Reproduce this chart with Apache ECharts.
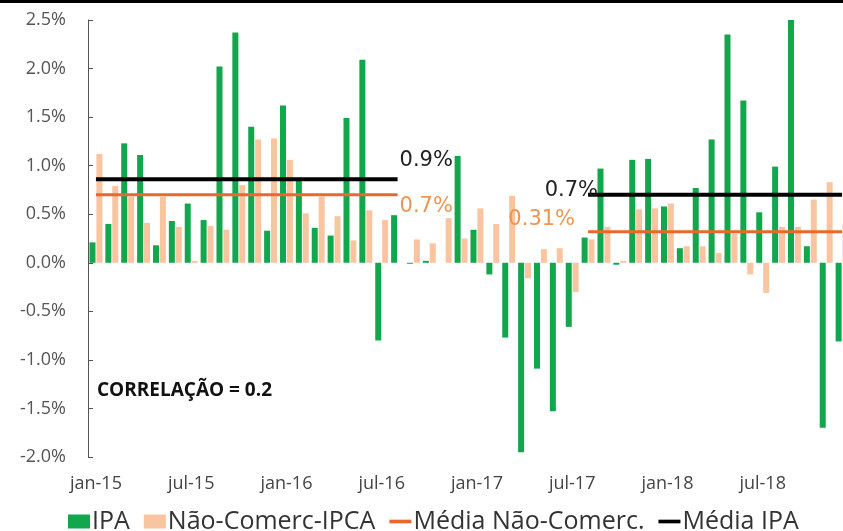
<!DOCTYPE html>
<html>
<head>
<meta charset="utf-8">
<script src="https://cdn.jsdelivr.net/npm/echarts@6/dist/echarts.min.js"></script>
<style>
  html, body { margin: 0; padding: 0; background: #fff; overflow: hidden; }
  /* the reference cuts the plot at its right edge, so the chart is wider than the window */
  #chart { width: 860px; height: 531px; }
</style>
</head>
<body>
<div id="chart"></div>
<script>
// meses jan-15 .. dez-18
var months = [
  "jan-15", "fev-15", "mar-15", "abr-15", "mai-15", "jun-15", "jul-15", "ago-15", "set-15", "out-15", "nov-15", "dez-15",
  "jan-16", "fev-16", "mar-16", "abr-16", "mai-16", "jun-16", "jul-16", "ago-16", "set-16", "out-16", "nov-16", "dez-16",
  "jan-17", "fev-17", "mar-17", "abr-17", "mai-17", "jun-17", "jul-17", "ago-17", "set-17", "out-17", "nov-17", "dez-17",
  "jan-18", "fev-18", "mar-18", "abr-18", "mai-18", "jun-18", "jul-18", "ago-18", "set-18", "out-18", "nov-18", "dez-18"
];

// variação mensal, %
var ipa = [
  0.21, 0.40, 1.23, 1.11, 0.18, 0.43, 0.61, 0.44, 2.02, 2.37, 1.40, 0.33,
  1.62, 0.85, 0.36, 0.28, 1.49, 2.09, -0.80, 0.49, -0.01, 0.02, 0.00, 1.10,
  0.34, -0.12, -0.77, -1.95, -1.09, -1.53, -0.66, 0.26, 0.97, -0.02, 1.06, 1.07,
  0.58, 0.15, 0.77, 1.27, 2.35, 1.67, 0.52, 0.99, 2.50, 0.17, -1.70, -0.81
];
var naoComerc = [
  1.12, 0.79, 0.68, 0.41, 0.68, 0.37, 0.02, 0.38, 0.34, 0.80, 1.27, 1.28,
  1.06, 0.51, 0.68, 0.48, 0.23, 0.54, 0.44, 0.00, 0.24, 0.20, 0.46, 0.25,
  0.56, 0.40, 0.69, -0.16, 0.14, 0.15, -0.30, 0.24, 0.37, 0.02, 0.55, 0.56,
  0.61, 0.17, 0.17, 0.10, 0.30, -0.12, -0.31, 0.37, 0.37, 0.65, 0.83, 0.40
];

// médias por período: [início, fim, valor, rótulo]
var mediaIpaPeriodos = [[0, 19, 0.86, "0.9%"], [31, 47, 0.70, "0.7%"]];
var mediaNaoComercPeriodos = [[0, 19, 0.70, "0.7%"], [31, 47, 0.32, "0.31%"]];

var yTicks = { min: -2, max: 2.5, interval: 0.5 };

function buildMedia(periodos, labels) {
  var out = months.map(function () { return null; });
  periodos.forEach(function (p, k) {
    for (var i = p[0]; i <= p[1]; i++) out[i] = p[2];
    var at = labels[k].at === "end" ? p[1] : p[0];
    out[at] = {
      value: p[2],
      label: Object.assign({ show: true, formatter: p[3] }, labels[k].style)
    };
  });
  return out;
}

var chart = echarts.init(document.getElementById("chart"));

var labelFont = { fontFamily: "DejaVu Sans", fontSize: 21 };
var lineIcon = "path://M0,0H24V4H0Z";

chart.setOption({
  animation: false,
  textStyle: { fontFamily: "Open Sans" },
  graphic: [
    { type: "rect", left: 0, top: 0, shape: { width: 860, height: 3 }, style: { fill: "#000" } },
    {
      type: "text", left: 97, top: 381,
      style: { text: "CORRELAÇÃO = 0.2", font: "bold 19px 'Open Sans'", fill: "#111" }
    }
  ],
  grid: { left: 88, top: 20, width: 762, height: 437 },
  legend: {
    left: 63, top: 504,
    itemWidth: 22, itemHeight: 14, itemGap: 14,
    textStyle: { fontSize: 25, color: "#333", fontFamily: "Open Sans", padding: [0, 0, 0, -3] },
    data: [
      { name: "IPA", icon: "rect" },
      { name: "Não-Comerc-IPCA", icon: "rect" },
      { name: "Média Não-Comerc.", icon: lineIcon },
      { name: "Média IPA", icon: lineIcon }
    ]
  },
  xAxis: {
    type: "category",
    data: months,
    axisLine: { show: false, onZero: false },
    axisTick: { show: false },
    axisLabel: { interval: 5, margin: 18, fontSize: 18, color: "#444" }
  },
  yAxis: {
    type: "value",
    min: yTicks.min, max: yTicks.max, interval: yTicks.interval,
    splitLine: { show: false },
    axisLine: { show: true, lineStyle: { color: "#555", width: 1 } },
    axisTick: { show: true, inside: true, length: 5, lineStyle: { color: "#555" } },
    axisLabel: {
      margin: 22, fontSize: 18, color: "#555",
      formatter: function (v) { return v.toFixed(1) + "%"; }
    }
  },
  series: [
    {
      name: "IPA", type: "bar", data: ipa,
      barWidth: 6, barGap: "15%",
      itemStyle: { color: "#12a64d" }
    },
    {
      name: "Não-Comerc-IPCA", type: "bar", data: naoComerc,
      barWidth: 6,
      itemStyle: { color: "#f8c5a0" }
    },
    {
      name: "Média Não-Comerc.", type: "line", z: 5,
      symbol: "circle", symbolSize: 0, showAllSymbol: true,
      lineStyle: { color: "#e8692c", width: 3 },
      itemStyle: { color: "#e8692c" },
      data: buildMedia(mediaNaoComercPeriodos, [
        { at: "end", style: Object.assign({ position: "right", distance: 2, offset: [0, 12], color: "#ef9550" }, labelFont) },
        { at: "start", style: Object.assign({ position: "left", distance: 0, offset: [-13, -12], color: "#ef9550" }, labelFont) }
      ])
    },
    {
      name: "Média IPA", type: "line", z: 6,
      symbol: "circle", symbolSize: 0, showAllSymbol: true,
      lineStyle: { color: "#000", width: 4 },
      itemStyle: { color: "#000" },
      data: buildMedia(mediaIpaPeriodos, [
        { at: "end", style: Object.assign({ position: "right", distance: 2, offset: [0, -19], color: "#222" }, labelFont) },
        { at: "start", style: Object.assign({ position: "left", distance: 0, offset: [10, -4], color: "#222" }, labelFont) }
      ])
    }
  ]
});

window.addEventListener("resize", function () {
  chart && chart.resize();
});
</script>
</body>
</html>
